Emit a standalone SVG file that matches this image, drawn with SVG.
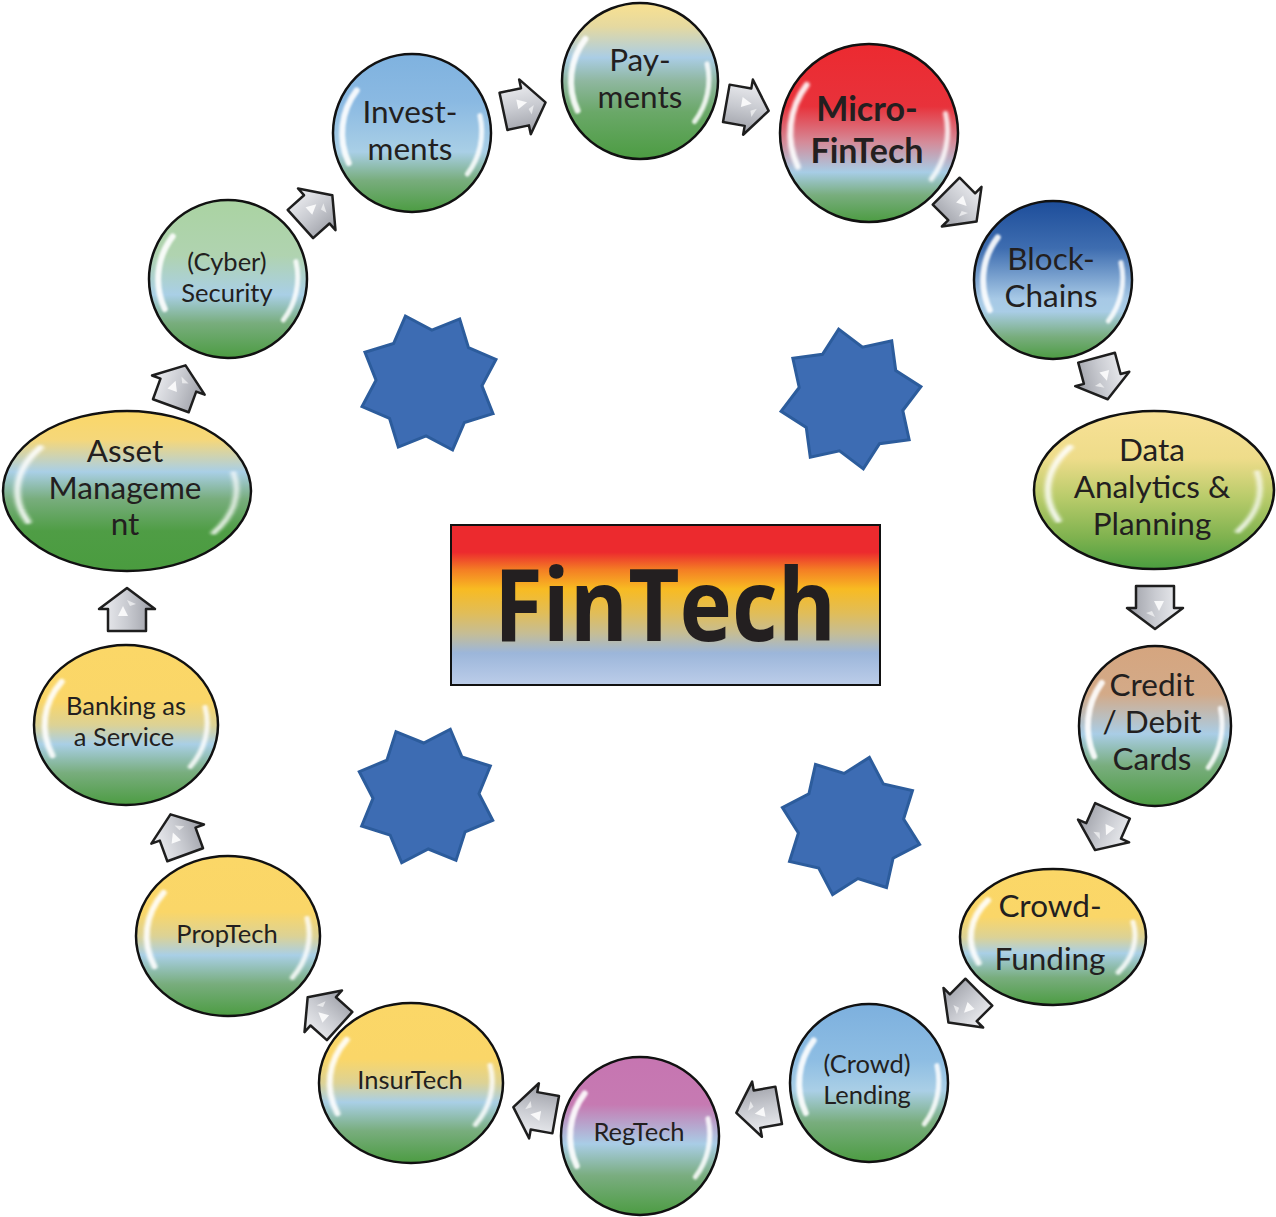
<svg xmlns="http://www.w3.org/2000/svg" xmlns:xlink="http://www.w3.org/1999/xlink" width="1276" height="1217" viewBox="0 0 1276 1217">
<style>
.bub{stroke:#111;stroke-width:2.5}
.t{font-family:Lato,"Open Sans","Liberation Sans",sans-serif;fill:#231f20;text-anchor:middle}
.t30{font-size:31.5px}
.t24{font-size:25.5px}
.gl{fill:none;stroke:#fff;stroke-linecap:round;vector-effect:non-scaling-stroke}
.star{fill:#3d6cb3;stroke:#2c5c9c;stroke-width:3;stroke-linejoin:miter}
</style>
<defs>
<filter id="blur" x="-50%" y="-50%" width="200%" height="200%"><feGaussianBlur stdDeviation="0.016"/></filter>
<linearGradient id="gPay" x1="0" y1="0" x2="0" y2="1"><stop offset="0" stop-color="#f9e190"/><stop offset="0.15" stop-color="#e5d9a0"/><stop offset="0.35" stop-color="#aacde5"/><stop offset="0.5" stop-color="#8fb7a0"/><stop offset="0.7" stop-color="#6aa868"/><stop offset="1" stop-color="#4c9c42"/></linearGradient>
<linearGradient id="gMicro" x1="0" y1="0" x2="0" y2="1"><stop offset="0" stop-color="#ec2a30"/><stop offset="0.35" stop-color="#e8323b"/><stop offset="0.55" stop-color="#d58a98"/><stop offset="0.72" stop-color="#a7cde6"/><stop offset="0.85" stop-color="#78ad7d"/><stop offset="1" stop-color="#4c9c42"/></linearGradient>
<linearGradient id="gBlock" x1="0" y1="0" x2="0" y2="1"><stop offset="0" stop-color="#1d4d9a"/><stop offset="0.3" stop-color="#3e6db0"/><stop offset="0.62" stop-color="#a7c9e6"/><stop offset="0.7" stop-color="#a9cde6"/><stop offset="0.86" stop-color="#78ad7d"/><stop offset="1" stop-color="#4c9c42"/></linearGradient>
<linearGradient id="gData" x1="0" y1="0" x2="0" y2="1"><stop offset="0" stop-color="#f8e196"/><stop offset="0.3" stop-color="#eedc8a"/><stop offset="0.55" stop-color="#b8cb6a"/><stop offset="0.8" stop-color="#7fb24f"/><stop offset="1" stop-color="#4a9d3f"/></linearGradient>
<linearGradient id="gCredit" x1="0" y1="0" x2="0" y2="1"><stop offset="0" stop-color="#d5a57f"/><stop offset="0.3" stop-color="#d3aa88"/><stop offset="0.55" stop-color="#a9cde6"/><stop offset="0.75" stop-color="#78ad7d"/><stop offset="1" stop-color="#4c9c42"/></linearGradient>
<linearGradient id="gYel" x1="0" y1="0" x2="0" y2="1"><stop offset="0" stop-color="#fbd767"/><stop offset="0.35" stop-color="#fad668"/><stop offset="0.5" stop-color="#dcd295"/><stop offset="0.62" stop-color="#a9cfe6"/><stop offset="0.8" stop-color="#78ad7d"/><stop offset="1" stop-color="#4c9c42"/></linearGradient>
<linearGradient id="gLend" x1="0" y1="0" x2="0" y2="1"><stop offset="0" stop-color="#7db0de"/><stop offset="0.35" stop-color="#8dbde3"/><stop offset="0.55" stop-color="#aacfe6"/><stop offset="0.75" stop-color="#78ad7d"/><stop offset="1" stop-color="#4c9c42"/></linearGradient>
<linearGradient id="gReg" x1="0" y1="0" x2="0" y2="1"><stop offset="0" stop-color="#c675b1"/><stop offset="0.3" stop-color="#c67ab2"/><stop offset="0.55" stop-color="#a9cde6"/><stop offset="0.75" stop-color="#7aad80"/><stop offset="1" stop-color="#4c9c42"/></linearGradient>
<linearGradient id="gAsset" x1="0" y1="0" x2="0" y2="1"><stop offset="0" stop-color="#fbd767"/><stop offset="0.18" stop-color="#f5d77a"/><stop offset="0.38" stop-color="#a9cfe6"/><stop offset="0.55" stop-color="#78ad7d"/><stop offset="0.75" stop-color="#4f9d45"/><stop offset="1" stop-color="#4a9c3f"/></linearGradient>
<linearGradient id="gCyber" x1="0" y1="0" x2="0" y2="1"><stop offset="0" stop-color="#aad3a2"/><stop offset="0.35" stop-color="#b0d3b0"/><stop offset="0.6" stop-color="#a9cfe6"/><stop offset="0.78" stop-color="#78ad7d"/><stop offset="1" stop-color="#4c9c42"/></linearGradient>
<linearGradient id="gInv" x1="0" y1="0" x2="0" y2="1"><stop offset="0" stop-color="#7fb2df"/><stop offset="0.3" stop-color="#8ab9e2"/><stop offset="0.62" stop-color="#a9cfe6"/><stop offset="0.8" stop-color="#78ad7d"/><stop offset="1" stop-color="#4c9c42"/></linearGradient>
<linearGradient id="gTitle" x1="0" y1="0" x2="0" y2="1"><stop offset="0" stop-color="#ec2a2e"/><stop offset="0.17" stop-color="#ec2a2e"/><stop offset="0.28" stop-color="#f47e24"/><stop offset="0.4" stop-color="#f8bb22"/><stop offset="0.55" stop-color="#e1bd58"/><stop offset="0.68" stop-color="#c5bd96"/><stop offset="0.8" stop-color="#9cb6da"/><stop offset="1" stop-color="#bccde9"/></linearGradient>
<linearGradient id="gArr" x1="0" y1="0" x2="0" y2="1"><stop offset="0" stop-color="#f0f1f4"/><stop offset="0.5" stop-color="#c9cbd1"/><stop offset="1" stop-color="#9a9ca4"/></linearGradient>
<g id="gloss">
<path class="gl" stroke-width="6" opacity="0.9" d="M-0.8,0.38 A0.89,0.89 0 0 1 -0.7,-0.54" filter="url(#blur)"/>
<path class="gl" stroke-width="5" opacity="0.85" d="M0.86,-0.22 A0.89,0.89 0 0 1 0.7,0.52" filter="url(#blur)"/>
</g>
<g id="arr">
<polygon points="-21,-19 1,-19 1,-28 22,0 1,28 1,19 -21,19" fill="url(#gArr)" stroke="#1e1e1e" stroke-width="2.5" stroke-linejoin="round"/>
<polygon points="-6,-9 4,-4 -6,1" fill="#fff" opacity="0.85"/>
<polygon points="4,3 10,0 6,9" fill="#fff" opacity="0.6"/>
</g>
<polygon id="st" points="71,0 49,20.3 50.2,50.2 20.3,49 0,71 -20.3,49 -50.2,50.2 -49,20.3 -71,0 -49,-20.3 -50.2,-50.2 -20.3,-49 0,-71 20.3,-49 50.2,-50.2 49,-20.3"/>
</defs>
<rect width="1276" height="1217" fill="#fff"/>

<g id="stars">
<use href="#st" class="star" transform="translate(429,383) rotate(25.6)"/>
<use href="#st" class="star" transform="translate(851,399) rotate(35)"/>
<use href="#st" class="star" transform="translate(426,796) rotate(20)"/>
<use href="#st" class="star" transform="translate(851,826) rotate(15)"/>
</g>

<g id="center">
<rect x="451" y="525" width="429" height="160" fill="url(#gTitle)" stroke="#111" stroke-width="2"/>
<text x="665" y="641" class="t" font-weight="bold" font-size="100" textLength="342" lengthAdjust="spacingAndGlyphs" style="font-family:'Open Sans',Lato,sans-serif">FinTech</text>
</g>

<g id="connectors">
<use href="#arr" transform="translate(524,107) rotate(-12)"/>
<use href="#arr" transform="translate(747,107) rotate(10)"/>
<use href="#arr" transform="translate(961,206) rotate(45)"/>
<use href="#arr" transform="translate(1102,378) rotate(75)"/>
<use href="#arr" transform="translate(1155,607) rotate(90)"/>
<use href="#arr" transform="translate(1104,830) rotate(114)"/>
<use href="#arr" transform="translate(964,1007) rotate(135)"/>
<use href="#arr" transform="translate(758,1109) rotate(170)"/>
<use href="#arr" transform="translate(535,1111) rotate(190)"/>
<use href="#arr" transform="translate(324,1012) rotate(222)"/>
<use href="#arr" transform="translate(178,835) rotate(250)"/>
<use href="#arr" transform="translate(127,610) rotate(270)"/>
<use href="#arr" transform="translate(178,386) rotate(290)"/>
<use href="#arr" transform="translate(316,210) rotate(318)"/>
</g>

<g id="n-payments">
<ellipse class="bub" cx="640" cy="81" rx="78" ry="78" fill="url(#gPay)"/>
<use href="#gloss" transform="translate(640,81) scale(78,78)"/>
<text class="t t30" x="640" y="71">Pay-</text><text class="t t30" x="640" y="108">ments</text>
</g>
<g id="n-micro">
<ellipse class="bub" cx="869" cy="133" rx="89" ry="89" fill="url(#gMicro)"/>
<use href="#gloss" transform="translate(869,133) scale(89,89)"/>
<text class="t" font-weight="bold" font-size="34" x="867" y="121">Micro-</text><text class="t" font-weight="bold" font-size="34" x="867" y="163">FinTech</text>
</g>
<g id="n-block">
<ellipse class="bub" cx="1053" cy="280" rx="79" ry="79" fill="url(#gBlock)"/>
<use href="#gloss" transform="translate(1053,280) scale(79,79)"/>
<text class="t t30" x="1051" y="270">Block-</text><text class="t t30" x="1051" y="307">Chains</text>
</g>
<g id="n-data">
<ellipse class="bub" cx="1154" cy="490" rx="120" ry="79" fill="url(#gData)"/>
<use href="#gloss" transform="translate(1154,490) scale(120,79)"/>
<text class="t t30" x="1152" y="461">Data</text><text class="t t30" x="1152" y="498">Analytics &amp;</text><text class="t t30" x="1152" y="535">Planning</text>
</g>
<g id="n-credit">
<ellipse class="bub" cx="1155" cy="726" rx="76" ry="80" fill="url(#gCredit)"/>
<use href="#gloss" transform="translate(1155,726) scale(76,80)"/>
<text class="t t30" x="1152" y="696">Credit</text><text class="t t30" x="1152" y="733">/ Debit</text><text class="t t30" x="1152" y="770">Cards</text>
</g>
<g id="n-crowdfunding">
<ellipse class="bub" cx="1053" cy="937" rx="93" ry="68" fill="url(#gYel)"/>
<use href="#gloss" transform="translate(1053,937) scale(93,68)"/>
<text class="t t30" x="1050" y="917">Crowd-</text><text class="t t30" x="1050" y="970">Funding</text>
</g>
<g id="n-lending">
<ellipse class="bub" cx="869" cy="1083" rx="79" ry="79" fill="url(#gLend)"/>
<use href="#gloss" transform="translate(869,1083) scale(79,79)"/>
<text class="t t24" x="867" y="1073">(Crowd)</text><text class="t t24" x="867" y="1104">Lending</text>
</g>
<g id="n-regtech">
<ellipse class="bub" cx="640" cy="1136" rx="79" ry="79" fill="url(#gReg)"/>
<use href="#gloss" transform="translate(640,1136) scale(79,79)"/>
<text class="t t24" x="639" y="1141">RegTech</text>
</g>
<g id="n-insurtech">
<ellipse class="bub" cx="411" cy="1083" rx="92" ry="80" fill="url(#gYel)"/>
<use href="#gloss" transform="translate(411,1083) scale(92,80)"/>
<text class="t t24" x="410" y="1089">InsurTech</text>
</g>
<g id="n-proptech">
<ellipse class="bub" cx="228" cy="936" rx="92" ry="80" fill="url(#gYel)"/>
<use href="#gloss" transform="translate(228,936) scale(92,80)"/>
<text class="t t24" x="227" y="943">PropTech</text>
</g>
<g id="n-banking">
<ellipse class="bub" cx="126" cy="725" rx="92" ry="80" fill="url(#gYel)"/>
<use href="#gloss" transform="translate(126,725) scale(92,80)"/>
<text class="t t24" x="126" y="715">Banking as</text><text class="t t24" x="124" y="746">a Service</text>
</g>
<g id="n-asset">
<ellipse class="bub" cx="127" cy="491" rx="124" ry="80" fill="url(#gAsset)"/>
<use href="#gloss" transform="translate(127,491) scale(124,80)"/>
<text class="t t30" x="125" y="462">Asset</text><text class="t t30" x="125" y="499">Manageme</text><text class="t t30" x="125" y="535">nt</text>
</g>
<g id="n-cyber">
<ellipse class="bub" cx="228" cy="279" rx="79" ry="79" fill="url(#gCyber)"/>
<use href="#gloss" transform="translate(228,279) scale(79,79)"/>
<text class="t t24" x="227" y="271">(Cyber)</text><text class="t t24" x="227" y="302">Security</text>
</g>
<g id="n-investments">
<ellipse class="bub" cx="412" cy="133" rx="79" ry="79" fill="url(#gInv)"/>
<use href="#gloss" transform="translate(412,133) scale(79,79)"/>
<text class="t t30" x="410" y="123">Invest-</text><text class="t t30" x="410" y="160">ments</text>
</g>
</svg>
